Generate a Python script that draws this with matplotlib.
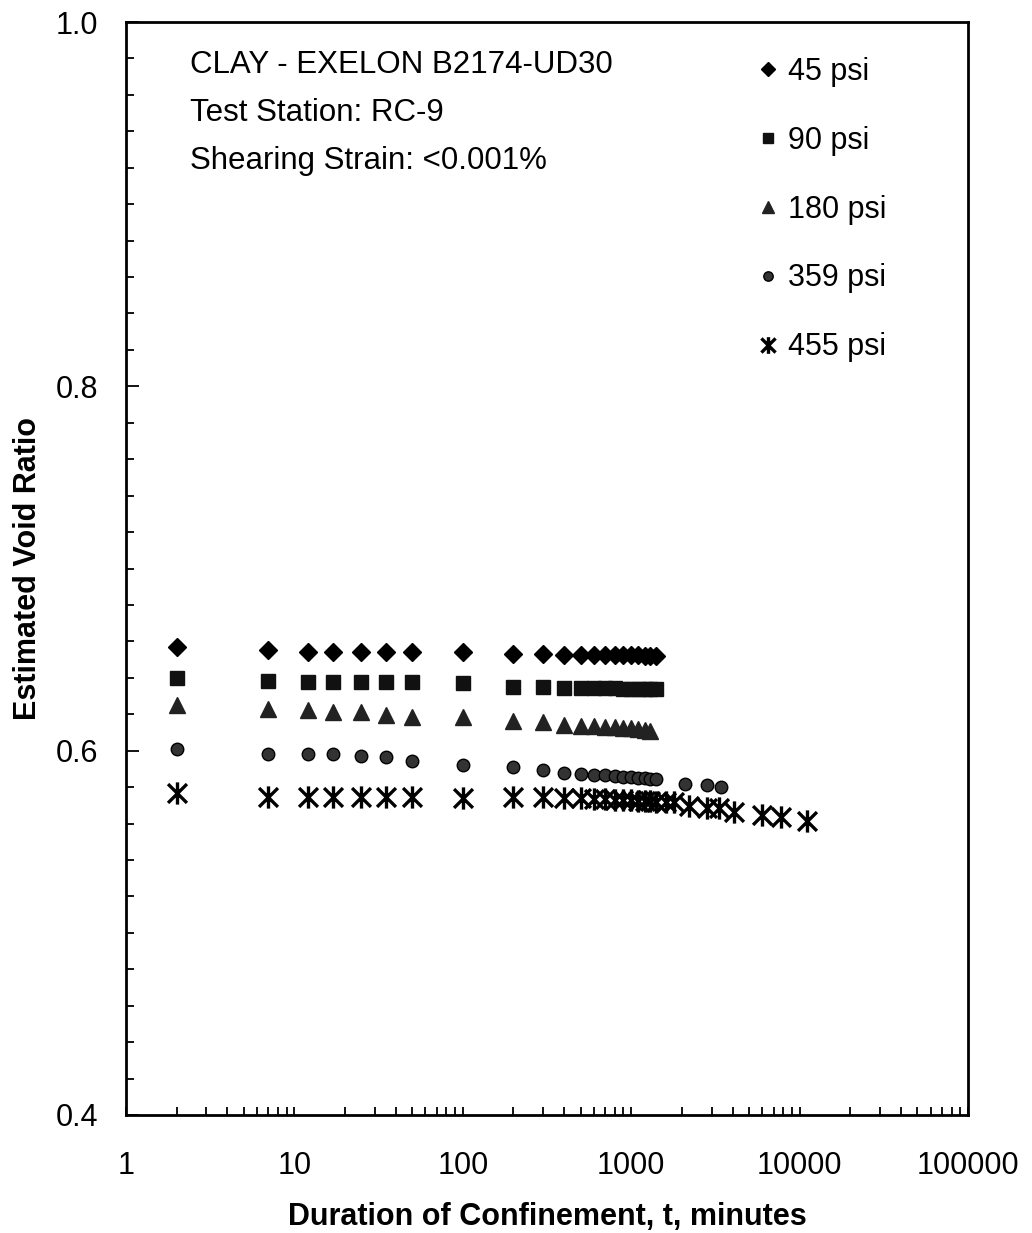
import matplotlib
matplotlib.use("Agg")
import matplotlib.pyplot as plt
from matplotlib.path import Path
from matplotlib.ticker import MultipleLocator, LogLocator, NullFormatter, FixedLocator, FixedFormatter

plt.rcParams['font.family'] = ['Liberation Sans', 'DejaVu Sans']

# confinement times (minutes) and void ratios for each confining pressure
t_base = [2, 7, 12, 17, 25, 35, 50, 100, 200, 300,
          400, 500, 600, 700, 800, 900, 1000, 1100, 1200, 1300, 1400]

e_45 = [0.657, 0.655, 0.6543, 0.6543, 0.6543, 0.6542, 0.6542, 0.6541, 0.653, 0.6528,
        0.6526, 0.6526, 0.6525, 0.6525, 0.6524, 0.6524, 0.6523, 0.6523, 0.6522, 0.6521, 0.652]

e_90 = [0.6397, 0.6384, 0.6378, 0.6378, 0.6377, 0.6376, 0.6375, 0.637, 0.635, 0.6348,
        0.6346, 0.6345, 0.6344, 0.6343, 0.6342, 0.6341, 0.634, 0.634, 0.6339, 0.6338, 0.6337]

t_180 = [2, 7, 12, 17, 25, 35, 50, 100, 200, 300,
         400, 500, 600, 700, 800, 900, 1000, 1100, 1200, 1300]
e_180 = [0.6251, 0.6229, 0.6223, 0.6214, 0.6212, 0.6195, 0.6186, 0.6184, 0.6164, 0.6159,
         0.614, 0.6138, 0.6135, 0.6132, 0.613, 0.6127, 0.6124, 0.612, 0.6116, 0.6110]

t_359 = [2, 7, 12, 17, 25, 35, 50, 100, 200, 300,
         400, 500, 600, 700, 800, 900, 1000, 1100, 1200, 1300, 1400, 2100, 2800, 3400]
e_359 = [0.6007, 0.5982, 0.598, 0.598, 0.5971, 0.5967, 0.5945, 0.5921, 0.5909, 0.5894,
         0.5877, 0.5872, 0.5868, 0.5864, 0.5861, 0.5858, 0.5855, 0.5852, 0.585, 0.5846, 0.5842,
         0.5818, 0.5811, 0.5802]

t_455 = [2, 7, 12, 17, 25, 35, 50, 100, 200, 300,
         400, 500, 600, 700, 800, 900, 1000, 1100, 1200, 1300, 1400, 1600, 1800,
         2200, 2800, 3300, 4100, 6000, 7800, 11000]
e_455 = [0.5769, 0.5747, 0.5747, 0.5747, 0.5747, 0.5747, 0.5747, 0.574, 0.5747, 0.5745,
         0.5742, 0.574, 0.5737, 0.5734, 0.5731, 0.5729, 0.5727, 0.5725, 0.5723, 0.5722, 0.572, 0.5718, 0.5716,
         0.5696, 0.5683, 0.5683, 0.5666, 0.5646, 0.5634, 0.5615]

series_labels = ['45 psi', '90 psi', '180 psi', '359 psi', '455 psi']
info_lines = ['CLAY - EXELON B2174-UD30', 'Test Station: RC-9', 'Shearing Strain: <0.001%']

# asterisk: vertical bar crossed by an X
star = Path([(0, -1), (0, 1), (-0.85, -0.85), (0.85, 0.85), (-0.85, 0.85), (0.85, -0.85)],
            [Path.MOVETO, Path.LINETO] * 3)

fig = plt.figure(figsize=(10.32, 12.33), dpi=100)
ax = fig.add_axes([126 / 1032, 1 - 1115 / 1233, (968 - 126) / 1032, (1115 - 22) / 1233])

ax.plot(t_base, e_45, linestyle='none', marker='D', ms=9, color='black', label=series_labels[0])
ax.plot(t_base, e_90, linestyle='none', marker='s', ms=10, color='#111111', label=series_labels[1])
ax.plot(t_180, e_180, linestyle='none', marker='^', ms=11, color='#222222', label=series_labels[2])
ax.plot(t_359, e_359, linestyle='none', marker='o', ms=9, color='#333333', mec='black', label=series_labels[3])
ax.plot(t_455, e_455, linestyle='none', marker=star, ms=16, mew=2.4, color='black', label=series_labels[4])

ax.set_xscale('log')
ax.set_xlim(1, 100000)
ax.set_ylim(0.4, 1.0)

ax.xaxis.set_major_locator(FixedLocator([1, 10, 100, 1000, 10000, 100000]))
ax.xaxis.set_major_formatter(FixedFormatter(['1', '10', '100', '1000', '10000', '100000']))
ax.xaxis.set_minor_locator(LogLocator(base=10, subs=range(2, 10), numticks=20))
ax.xaxis.set_minor_formatter(NullFormatter())
ax.yaxis.set_major_locator(MultipleLocator(0.2))
ax.yaxis.set_minor_locator(MultipleLocator(0.02))
ax.yaxis.set_major_formatter(plt.FuncFormatter(lambda v, p: f'{v:.1f}'))

ax.tick_params(which='both', direction='in', labelsize=22, width=1.3)
ax.tick_params(which='major', length=9)
ax.tick_params(which='minor', length=6)
ax.tick_params(axis='x', which='major', length=6, pad=26)
ax.tick_params(axis='y', pad=20)
for s in ax.spines.values():
    s.set_linewidth(2)

ax.set_xlabel('Duration of Confinement, t, minutes', fontsize=22, fontweight='bold', labelpad=15)
ax.set_ylabel('Estimated Void Ratio', fontsize=22, fontweight='bold', labelpad=9)

for i, line in enumerate(info_lines):
    ax.text(0.076, 0.9533 - i * 0.0439, line, transform=ax.transAxes, fontsize=22.5, va='baseline')

ax.legend(loc='upper left', bbox_to_anchor=(0.752, 0.968), frameon=False, fontsize=22,
          markerscale=0.75, handlelength=0.6, handletextpad=0.35, labelspacing=1.27,
          borderpad=0, borderaxespad=0)

fig.savefig('out.png', dpi=100)
